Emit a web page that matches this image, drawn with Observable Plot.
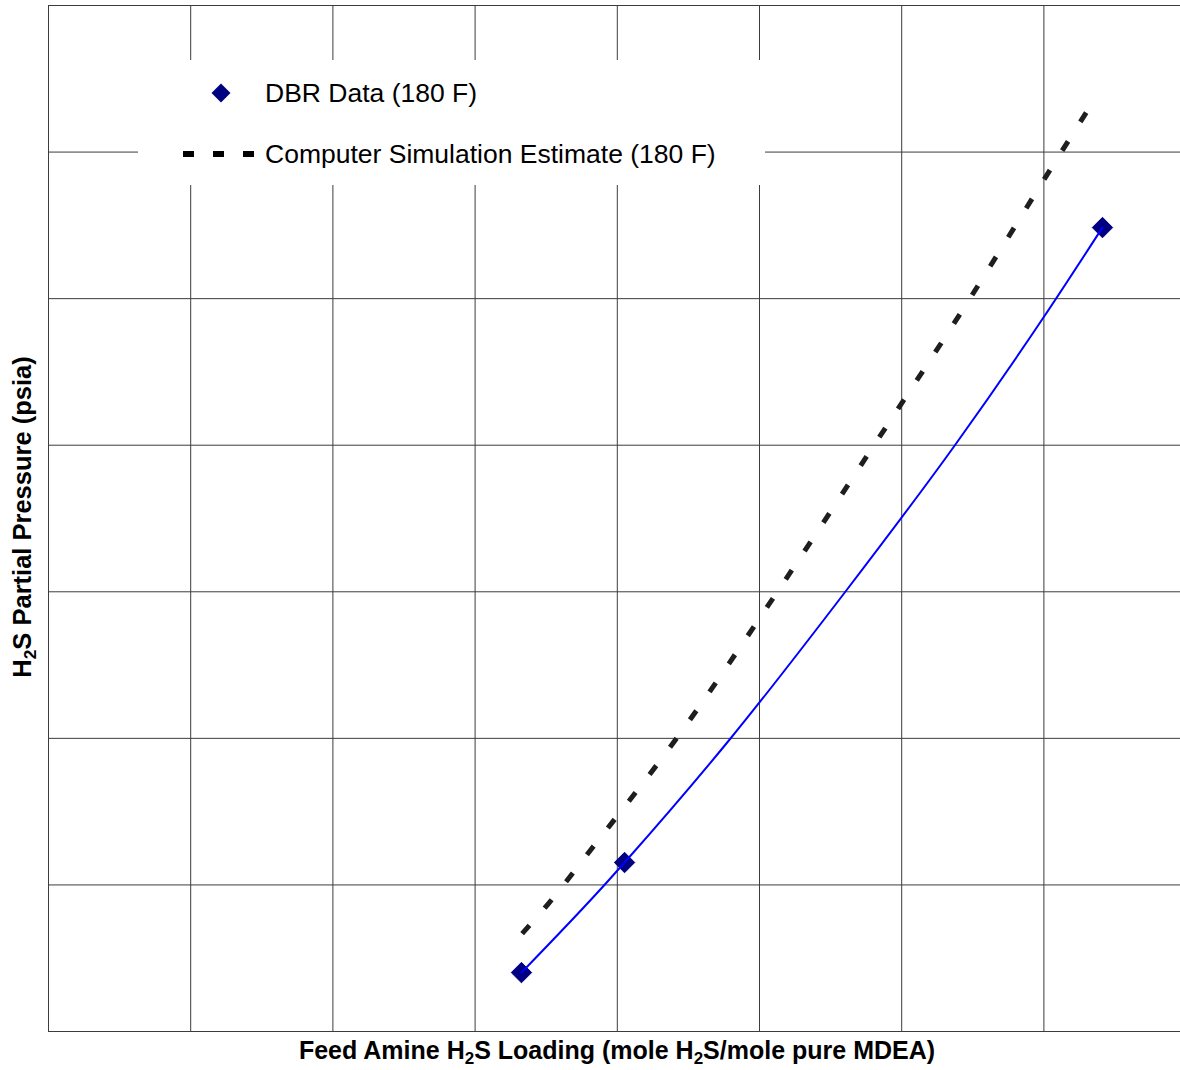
<!DOCTYPE html>
<html>
<head>
<meta charset="utf-8">
<script src="https://cdn.jsdelivr.net/npm/d3@7"></script>
<script src="https://cdn.jsdelivr.net/npm/@observablehq/plot@0.6"></script>
<style>
  body { margin: 0; background: #fff; font-family: "Liberation Sans", Arial, sans-serif; }
  #chart { position: relative; width: 1180px; height: 1070px; overflow: hidden; }
  #chart svg.plot { display: block; }
  .legend { position: absolute; left: 138px; top: 60px; width: 627px; height: 125px; background: #fff; }
  .legend svg { position: absolute; left: 0; top: 0; }
  .legend .lbl { position: absolute; left: 127px; font-size: 26.5px; color: #000; white-space: nowrap; line-height: 1; }
</style>
</head>
<body>
<div id="chart"></div>
<script>
// Measured DBR data points at 180 F (grid units, no printed tick values)
const dbrLoading  = [3.326, 4.051, 7.412];
const dbrPressure = [0.402, 1.153, 5.485];

// Trend line through the DBR data
const fitLoading  = [3.326, 3.938, 4.051, 4.796, 5.605, 6.378, 6.997, 7.412];
const fitPressure = [0.402, 1.030, 1.153, 1.999, 3.002, 4.005, 4.871, 5.485];

// Computer simulation estimate at 180 F
const simLoading  = [3.312, 3.516, 3.826, 4.416, 5.127, 5.809, 6.435, 7.067, 7.342];
const simPressure = [0.648, 0.873, 1.255, 1.999, 3.002, 4.005, 4.933, 5.915, 6.338];

// Grid divisions
const xGrid = [0, 1, 2, 3, 4, 5, 6, 7];
const yGrid = [0, 1, 2, 3, 4, 5, 6, 7];

const legendItems = ["DBR Data (180 F)", "Computer Simulation Estimate (180 F)"];
const xTitle = ["Feed Amine H", "2", "S Loading (mole H", "2", "S/mole pure MDEA)"];
const yTitle = ["H", "2", "S Partial Pressure (psia)"];

const dbr = dbrLoading.map((x, i) => ({x, y: dbrPressure[i]}));
const fit = fitLoading.map((x, i) => ({x, y: fitPressure[i]}));
const sim = simLoading.map((x, i) => ({x, y: simPressure[i]}));

const gridColor = "#3c3c3c";

const plot = Plot.plot({
  width: 1180,
  height: 1070,
  marginLeft: 48,
  marginRight: 0,
  marginTop: 5,
  marginBottom: 39,
  style: { fontFamily: "'Liberation Sans', Arial, sans-serif", background: "#fff" },
  x: { domain: [0, 8], range: [48, 1185.6], axis: null },
  y: { domain: [0, 7], axis: null },
  marks: [
    Plot.ruleY(yGrid, { stroke: gridColor, strokeWidth: 1 }),
    Plot.ruleX(xGrid, { stroke: gridColor, strokeWidth: 1 }),
    Plot.line(sim, {
      x: "x", y: "y", curve: "monotone-x",
      stroke: "#1e1e1e", strokeWidth: 5, strokeDasharray: "11,23", strokeDashoffset: -4, strokeLinecap: "butt"
    }),
    Plot.dot(dbr, {
      x: "x", y: "y", symbol: "diamond2", r: 9.2,
      fill: "#000080", stroke: "#000080", strokeWidth: 1
    }),
    Plot.line(fit, {
      x: "x", y: "y", curve: "monotone-x",
      stroke: "#0000ff", strokeWidth: 2
    })
  ]
});
plot.classList.add("plot");

// Axis titles with subscripts
const svg = d3.select(plot);
function titleText(parts, size, attrs) {
  const t = svg.append("text")
    .attr("font-family", "'Liberation Sans', Arial, sans-serif")
    .attr("font-weight", "bold")
    .attr("font-size", size)
    .attr("fill", "#000")
    .attr("text-anchor", "middle");
  for (const [k, v] of Object.entries(attrs)) t.attr(k, v);
  const shift = Math.round(size * 0.2);
  parts.forEach((p, i) => {
    const sub = i % 2 === 1;
    t.append("tspan")
      .attr("font-size", sub ? size * 0.68 : size)
      .attr("dy", sub ? shift : (i > 0 ? -shift : 0))
      .text(p);
  });
  return t;
}
titleText(xTitle, 25, { x: 617, y: 1059 });
titleText(yTitle, 25.5, { transform: "translate(31,517) rotate(-90)" });

const chart = document.getElementById("chart");
chart.appendChild(plot);

// Legend box over the grid
const legend = document.createElement("div");
legend.className = "legend";
legend.innerHTML = `
  <svg width="627" height="125">
    <path d="M83,23.5 L92.5,33 L83,42.5 L73.5,33 Z" fill="#000080"/>
    <line x1="45" y1="94" x2="118" y2="94" stroke="#000" stroke-width="6" stroke-dasharray="11,19"/>
  </svg>
  <div class="lbl" style="top:20px">${legendItems[0]}</div>
  <div class="lbl" style="top:81px">${legendItems[1]}</div>`;
chart.appendChild(legend);
</script>
</body>
</html>
